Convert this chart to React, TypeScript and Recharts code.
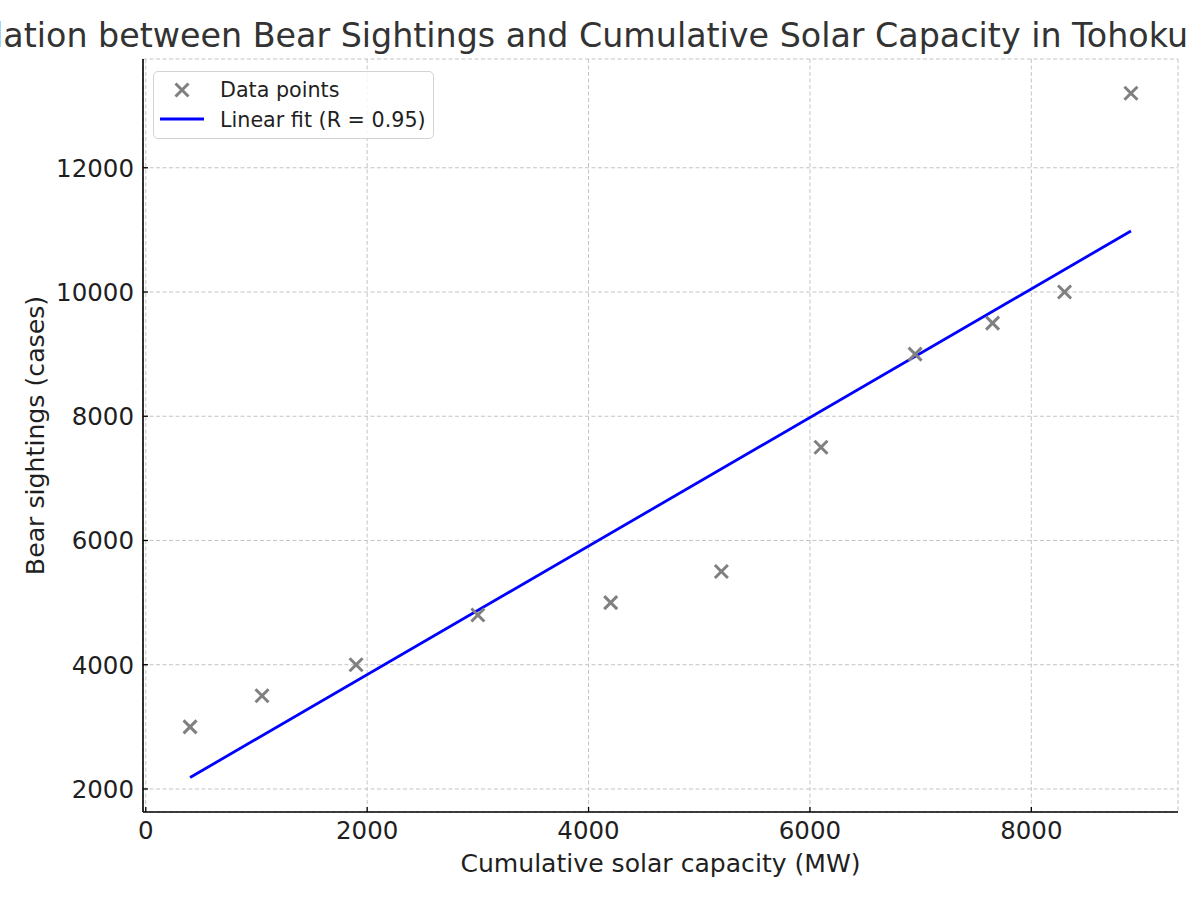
import React from 'react';
import { ScatterChart, Scatter, XAxis, YAxis, CartesianGrid, Legend } from 'recharts';

const capacityMW = [400, 1050, 1900, 3000, 4200, 5200, 6100, 6950, 7650, 8300, 8900];
const bearSightings = [3000, 3500, 4000, 4800, 5000, 5500, 7500, 9000, 9500, 10000, 13200];
const fitX = [400, 8900];
const fitY = [2184, 10982];
const xTicks = [0, 2000, 4000, 6000, 8000];
const yTicks = [2000, 4000, 6000, 8000, 10000, 12000];
const xDomain = [-25, 9325];
const yDomain = [1629, 13751];

const TITLE = 'Correlation between Bear Sightings and Cumulative Solar Capacity in Tohoku';
const X_LABEL = 'Cumulative solar capacity (MW)';
const Y_LABEL = 'Bear sightings (cases)';
const LEGEND_POINTS = 'Data points';
const LEGEND_FIT = 'Linear fit (R = 0.95)';

const points = capacityMW.map((x, i) => ({ x, y: bearSightings[i] }));
const fit = fitX.map((x, i) => ({ x, y: fitY[i] }));

const FONT = '"DejaVu Sans", sans-serif';
const TEXT = '#1f1f1f';
const MARKER = '#808080';
const BLUE = '#0000ff';

const Cross = (props: any) => {
  const { cx, cy } = props;
  if (cx == null || cy == null) return <g />;
  const r = 6.5;
  return (
    <g>
      <line x1={cx - r} y1={cy - r} x2={cx + r} y2={cy + r} stroke={MARKER} strokeWidth={3} />
      <line x1={cx - r} y1={cy + r} x2={cx + r} y2={cy - r} stroke={MARKER} strokeWidth={3} />
    </g>
  );
};

const Empty = () => <g />;

const X_MARGIN = 10;
const Y_MARGIN = 9;
const TICK_LEN = 5;

const XTick = (props: any) => {
  const { x, y, payload } = props;
  const axisY = y - X_MARGIN;
  return (
    <g>
      <line x1={x} x2={x} y1={axisY} y2={axisY - TICK_LEN} stroke="#000" strokeWidth={1.3} />
      <text x={x} y={y} dy="0.71em" textAnchor="middle" fontFamily={FONT} fontSize={24.5} fill={TEXT}>
        {payload.value}
      </text>
    </g>
  );
};

const YTick = (props: any) => {
  const { x, y, payload } = props;
  const axisX = x + Y_MARGIN;
  return (
    <g>
      <line x1={axisX} x2={axisX + TICK_LEN} y1={y} y2={y} stroke="#000" strokeWidth={1.3} />
      <text x={x} y={y} dy="0.36em" textAnchor="end" fontFamily={FONT} fontSize={24.5} fill={TEXT}>
        {payload.value}
      </text>
    </g>
  );
};

const YLabel = (props: any) => {
  const vb = props.viewBox || {};
  const cx = 35;
  const cy = (vb.y ?? 59) + (vb.height ?? 753) / 2;
  return (
    <text
      x={cx}
      y={cy}
      transform={`rotate(-90 ${cx} ${cy})`}
      textAnchor="middle"
      dominantBaseline="central"
      fontFamily={FONT}
      fontSize={25.2}
      fill={TEXT}
    >
      {Y_LABEL}
    </text>
  );
};

const XLabel = (props: any) => {
  const vb = props.viewBox || {};
  const cx = (vb.x ?? 143) + (vb.width ?? 1035) / 2;
  return (
    <text x={cx} y={872} textAnchor="middle" fontFamily={FONT} fontSize={25.1} fill={TEXT}>
      {X_LABEL}
    </text>
  );
};

const LegendBox = () => (
  <div
    style={{
      position: 'relative',
      width: 281,
      height: 68,
      boxSizing: 'border-box',
      border: '1.3px solid #d3d3d3',
      borderRadius: 5,
      background: 'rgba(255,255,255,0.85)',
    }}
  >
    <svg style={{ position: 'absolute', left: 0, top: 0 }} width={281} height={68}>
      <Cross cx={28} cy={18} />
      <line x1={6} x2={50} y1={47} y2={47} stroke={BLUE} strokeWidth={2.8} />
      <text x={66} y={25} fontFamily={FONT} fontSize={20.7} fill={TEXT}>
        {LEGEND_POINTS}
      </text>
      <text x={66} y={55} fontFamily={FONT} fontSize={20.7} fill={TEXT}>
        {LEGEND_FIT}
      </text>
    </svg>
  </div>
);

export default function App() {
  return (
    <div style={{ position: 'absolute', left: 0, top: 0, width: 1200, height: 900, background: '#fff', overflow: 'visible' }}>
      <div
        style={{
          position: 'absolute',
          right: 12,
          top: 13.5,
          whiteSpace: 'nowrap',
          fontFamily: FONT,
          fontSize: 33.3,
          lineHeight: '44px',
          color: '#333',
          textAlign: 'right',
        }}
      >
        {TITLE}
      </div>
      <ScatterChart width={1200} height={900} margin={{ top: 59, right: 22, bottom: 0, left: 0 }}>
        <CartesianGrid stroke="#c4c4c4" strokeDasharray="4 2.5" strokeWidth={1} />
        <XAxis
          type="number"
          dataKey="x"
          domain={xDomain}
          ticks={xTicks}
          interval={0}
          allowDataOverflow
          tickSize={0}
          tickMargin={X_MARGIN}
          tick={<XTick />}
          tickLine={false}
          axisLine={{ stroke: '#000', strokeWidth: 1.6 }}
          height={88}
          label={<XLabel />}
        />
        <YAxis
          type="number"
          dataKey="y"
          domain={yDomain}
          ticks={yTicks}
          interval={0}
          allowDataOverflow
          tickSize={0}
          tickMargin={Y_MARGIN}
          tick={<YTick />}
          tickLine={false}
          axisLine={{ stroke: '#000', strokeWidth: 1.6 }}
          width={143}
          label={<YLabel />}
        />
        <Scatter
          name={LEGEND_FIT}
          data={fit}
          fill={BLUE}
          line={{ stroke: BLUE, strokeWidth: 2.8 }}
          shape={<Empty />}
          isAnimationActive={false}
        />
        <Scatter name={LEGEND_POINTS} data={points} fill={MARKER} shape={<Cross />} isAnimationActive={false} />
        <Legend
          layout="vertical"
          align="center"
          verticalAlign="middle"
          content={<LegendBox />}
          wrapperStyle={{ left: 153, top: 71, width: 281, height: 68 }}
        />
      </ScatterChart>
    </div>
  );
}
